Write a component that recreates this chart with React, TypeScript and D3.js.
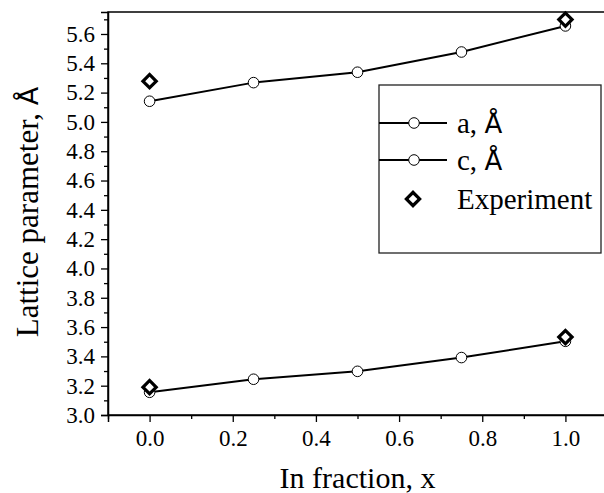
import * as d3 from "d3";
import { useEffect, useRef } from "react";

const fractions = [0, 0.25, 0.5, 0.75, 1.0];
const latticeA = [3.155, 3.244, 3.298, 3.392, 3.503];
const latticeC = [5.141, 5.268, 5.339, 5.477, 5.655];
const expFractions = [0, 1.0];
const expA = [3.19, 3.532];
const expC = [5.278, 5.698];

const yMajor = [3.0, 3.2, 3.4, 3.6, 3.8, 4.0, 4.2, 4.4, 4.6, 4.8, 5.0, 5.2, 5.4, 5.6];
const yMinor = [3.1, 3.3, 3.5, 3.7, 3.9, 4.1, 4.3, 4.5, 4.7, 4.9, 5.1, 5.3, 5.5, 5.7];
const xMajor = [0, 0.2, 0.4, 0.6, 0.8, 1.0];
const xMinor = [-0.1, 0.1, 0.3, 0.5, 0.7, 0.9, 1.1];

const legendItems = ["a, ", "c, ", "Experiment"];

const W = 604;
const H = 493;
const SERIF = "Liberation Serif";
const SANS = "DejaVu Sans";

export default function App() {
  const ref = useRef<SVGSVGElement | null>(null);

  useEffect(() => {
    if (!ref.current) return;
    const margin = { top: 12, right: -3, bottom: 78, left: 108 };
    const innerW = W - margin.left - margin.right;
    const innerH = H - margin.top - margin.bottom;

    const x = d3.scaleLinear().domain([-0.1, 1.1]).range([0, innerW]);
    const y = d3.scaleLinear().domain([3.0, 5.75]).range([innerH, 0]);

    const svg = d3.select(ref.current);
    svg.selectAll("*").remove();
    const g = svg.append("g").attr("transform", `translate(${margin.left},${margin.top})`);

    // frame
    g.append("rect")
      .attr("width", innerW)
      .attr("height", innerH)
      .attr("fill", "none")
      .attr("stroke", "#000")
      .attr("stroke-width", 1.5);

    // axes
    const styleAxis = (sel: d3.Selection<SVGGElement, unknown, null, undefined>) => {
      sel.attr("font-family", SERIF).attr("font-size", 23);
      sel.select(".domain").attr("stroke-width", 1.5);
      sel.selectAll(".tick line").attr("stroke-width", 1.3);
      sel.selectAll("text").attr("fill", "#000");
    };

    const yAx = g.append("g").call(
      d3.axisLeft(y).tickValues(yMajor).tickSize(7).tickPadding(6).tickFormat((v) => d3.format(".1f")(v as number))
    );
    styleAxis(yAx);
    const yMin = g.append("g").call(d3.axisLeft(y).tickValues(yMinor).tickSize(4).tickFormat(() => ""));
    styleAxis(yMin);
    yMin.select(".domain").remove();

    const xAx = g.append("g")
      .attr("transform", `translate(0,${innerH})`)
      .call(d3.axisBottom(x).tickValues(xMajor).tickSize(7).tickPadding(8).tickFormat((v) => d3.format(".1f")(v as number)));
    styleAxis(xAx);
    const xMin = g.append("g")
      .attr("transform", `translate(0,${innerH})`)
      .call(d3.axisBottom(x).tickValues(xMinor).tickSize(4).tickFormat(() => ""));
    styleAxis(xMin);
    xMin.select(".domain").remove();

    // lines
    const series = [latticeA, latticeC];
    const line = d3
      .line<number>()
      .x((_, i) => x(fractions[i]))
      .y((d) => y(d));
    series.forEach((vals) => {
      g.append("path").datum(vals).attr("fill", "none").attr("stroke", "#000").attr("stroke-width", 2).attr("d", line);
    });
    series.forEach((vals) => {
      g.selectAll(null)
        .data(vals)
        .join("circle")
        .attr("cx", (_, i) => x(fractions[i]))
        .attr("cy", (d) => y(d))
        .attr("r", 5.3)
        .attr("fill", "#fff")
        .attr("stroke", "#000")
        .attr("stroke-width", 1);
    });

    const diamond = d3.symbol().type(d3.symbolSquare).size(88);
    [expA, expC].forEach((vals) => {
      g.selectAll(null)
        .data(vals)
        .join("path")
        .attr("d", diamond)
        .attr("transform", (d, i) => `translate(${x(expFractions[i])},${y(d)}) rotate(45)`)
        .attr("fill", "#fff")
        .attr("stroke", "#000")
        .attr("stroke-width", 3.2);
    });

    // legend
    const leg = svg.append("g").attr("transform", "translate(379,85)");
    leg.append("rect").attr("width", 222).attr("height", 168).attr("fill", "#fff").attr("stroke", "#222").attr("stroke-width", 1.3);
    const rowsY = [38, 75, 114];
    legendItems.forEach((label, i) => {
      const ry = rowsY[i];
      if (i < 2) {
        leg.append("line").attr("x1", 0).attr("x2", 68).attr("y1", ry).attr("y2", ry).attr("stroke", "#000").attr("stroke-width", 2);
        leg.append("circle").attr("cx", 35).attr("cy", ry).attr("r", 5.3).attr("fill", "#fff").attr("stroke", "#000");
      } else {
        leg.append("path").attr("d", diamond).attr("transform", `translate(34,${ry}) rotate(45)`).attr("fill", "#fff").attr("stroke", "#000").attr("stroke-width", 3.2);
      }
      const t = leg.append("text")
        .attr("x", 78)
        .attr("y", ry + 10)
        .attr("font-family", SERIF)
        .attr("font-size", 29)
        .attr("fill", "#000")
        .text(label);
      if (i < 2) t.append("tspan").attr("font-family", SANS).attr("font-size", 26).text("Å");
    });

    // titles
    svg.append("text")
      .attr("x", margin.left + innerW / 2)
      .attr("y", 488)
      .attr("text-anchor", "middle")
      .attr("font-family", SERIF)
      .attr("font-size", 30)
      .text("In fraction, x");

    const yt = svg.append("text")
      .attr("transform", `translate(38,${212}) rotate(-90)`)
      .attr("text-anchor", "middle")
      .attr("font-family", SERIF)
      .attr("font-size", 31)
      .text("Lattice parameter, ");
    yt.append("tspan").attr("font-family", SANS).attr("font-size", 27).text("Å");
  }, []);

  return (
    <div style={{ position: "fixed", left: 0, top: 0, width: W, height: H, background: "#fff" }}>
      <svg ref={ref} width={W} height={H} style={{ display: "block" }} />
    </div>
  );
}
